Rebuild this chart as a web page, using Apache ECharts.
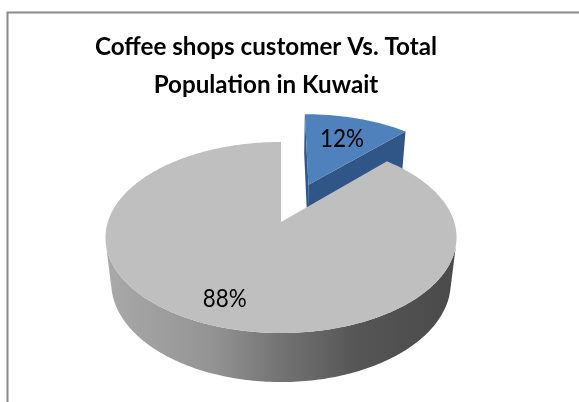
<!DOCTYPE html>
<html>
<head>
<meta charset="utf-8">
<script src="https://cdn.jsdelivr.net/npm/echarts@6/dist/echarts.min.js"></script>
<style>
  html, body { margin: 0; padding: 0; background: #ffffff; }
  #chart { width: 579px; height: 402px; }
</style>
</head>
<body>
<div id="chart"></div>
<script>
// Chart content
const titleLines = ['Coffee shops customer Vs. Total', 'Population in Kuwait'];
const sliceNames = ['Coffee shops customers', 'Rest of population'];
const sliceValues = [12, 88];

// Look of the tilted 3-D pie (world units: pie radius = 1)
const VIEW = {
  cx: 281, cy: 222,          // screen position of the pie centre (top face)
  scale: 173.2,              // pixels per unit radius at the centre depth
  tilt: Math.asin(0.537),    // elevation of the eye above the pie plane
  dist: 5.197,               // eye distance for perspective
  depth: 0.317,              // thickness of the pie
  explode: [0.46, 0],        // how far each slice is pulled out
  labelRadius: [0.66, 0.78]  // where each percentage label sits
};
const topColors = ['#4f81bd', '#bfbfbf'];
const FONT = "Lato, 'Liberation Sans', Arial, sans-serif";

// narrow the text a little so it sets like Calibri
const measureCtx = document.createElement('canvas').getContext('2d');
function textWidth(text, font) { measureCtx.font = font; return measureCtx.measureText(text).width; }
const TITLE_FONT = 'bold 25px ' + FONT;
const LABEL_FONT = '25px ' + FONT;
const titleSquash = 342 / textWidth(titleLines[0], TITLE_FONT);
const labelSquash = 44 / textWidth('12%', LABEL_FONT);

const sn = Math.sin(VIEW.tilt), cs = Math.cos(VIEW.tilt);
const eye = [0, -VIEW.dist * cs, VIEW.dist * sn];

function project(p) {
  const u = p[0];
  const v = p[1] * sn + p[2] * cs;
  const w = p[1] * cs - p[2] * sn;
  const s = VIEW.dist / (VIEW.dist + w);
  return [VIEW.cx + VIEW.scale * u * s, VIEW.cy - VIEW.scale * v * s];
}
function facesEye(n, p) {
  return n[0] * (eye[0] - p[0]) + n[1] * (eye[1] - p[1]) + n[2] * (eye[2] - p[2]) > 1e-9;
}

// Side shading: blue slice is flat dark blue, grey slice gets the lit-from-left ramp
function sideFill(i) {
  if (i === 0) return '#2f5686';
  const x0 = VIEW.cx - VIEW.scale * 1.02, x1 = VIEW.cx + VIEW.scale * 1.02;
  return new echarts.graphic.LinearGradient(x0, 0, x1, 0, [
    { offset: 0, color: '#a9a9a9' },
    { offset: 0.3, color: '#949494' },
    { offset: 0.5, color: '#737373' },
    { offset: 0.72, color: '#555555' },
    { offset: 1, color: '#4a4a4a' }
  ], true);
}

function renderSlice(params, api) {
  const i = params.dataIndex;
  const total = sliceValues.reduce((a, b) => a + b, 0);
  const before = sliceValues.slice(0, i).reduce((a, b) => a + b, 0);
  const val = api.value(0);
  const a0 = before / total * 2 * Math.PI;
  const a1 = (before + val) / total * 2 * Math.PI;
  const am = (a0 + a1) / 2;
  const off = VIEW.explode[i] || 0;
  const ox = off * Math.sin(am), oy = off * Math.cos(am);
  const H = -VIEW.depth;
  const rim = (a, z, r) => [ox + (r == null ? 1 : r) * Math.sin(a), oy + (r == null ? 1 : r) * Math.cos(a), z];
  const ctr = [ox, oy, 0];
  const children = [];

  // cut faces of the wedge
  if (val < total) {
    [[a0, [-Math.cos(a0), Math.sin(a0), 0]], [a1, [Math.cos(a1), -Math.sin(a1), 0]]].forEach(function (f) {
      if (!facesEye(f[1], ctr)) return;
      const pts = [ctr, rim(f[0], 0), rim(f[0], H), [ox, oy, H]].map(project);
      children.push({ type: 'polygon', shape: { points: pts }, style: { fill: sideFill(i) } });
    });
  }

  // curved outer wall, only the parts turned toward the eye
  const steps = Math.max(2, Math.ceil((a1 - a0) / (Math.PI / 180)));
  let run = [];
  const flush = function () {
    if (run.length > 1) {
      const pts = run.map(a => project(rim(a, 0)))
        .concat(run.slice().reverse().map(a => project(rim(a, H))));
      children.push({ type: 'polygon', shape: { points: pts }, style: { fill: sideFill(i) } });
    }
    run = [];
  };
  for (let k = 0; k <= steps; k++) {
    const a = a0 + (a1 - a0) * k / steps;
    if (facesEye([Math.sin(a), Math.cos(a), 0], rim(a, 0))) run.push(a); else flush();
  }
  flush();

  // top face
  const top = [project(ctr)];
  for (let k = 0; k <= steps; k++) top.push(project(rim(a0 + (a1 - a0) * k / steps, 0)));
  children.push({ type: 'polygon', shape: { points: top }, style: { fill: topColors[i] } });

  // percentage label
  const lp = project(rim(am, 0, VIEW.labelRadius[i]));
  children.push({
    type: 'text', x: lp[0], y: lp[1], scaleX: labelSquash,
    style: {
      text: Math.round(val / total * 100) + '%',
      fill: '#000000', font: LABEL_FONT,
      align: 'center', verticalAlign: 'middle'
    }
  });
  return { type: 'group', children: children };
}

const chart = echarts.init(document.getElementById('chart'), null, { renderer: 'canvas' });
chart.setOption({
  animation: false,
  backgroundColor: '#ffffff',
  graphic: [
    {
      type: 'rect', left: 5, top: 10, z: 0,
      shape: { width: 640, height: 440 },
      style: { fill: 'none', stroke: '#8a8a8a', lineWidth: 2 }
    },
    {
      type: 'text', x: 266, y: 66, z: 10, scaleX: titleSquash,
      style: {
        text: titleLines.join('\n'),
        font: TITLE_FONT, lineHeight: 38,
        fill: '#000000', align: 'center', verticalAlign: 'middle'
      }
    }
  ],
  series: [{
    type: 'custom',
    coordinateSystem: 'none',
    renderItem: renderSlice,
    data: sliceValues.map((v, k) => ({ name: sliceNames[k], value: [v] }))
  }]
});
</script>
</body>
</html>
